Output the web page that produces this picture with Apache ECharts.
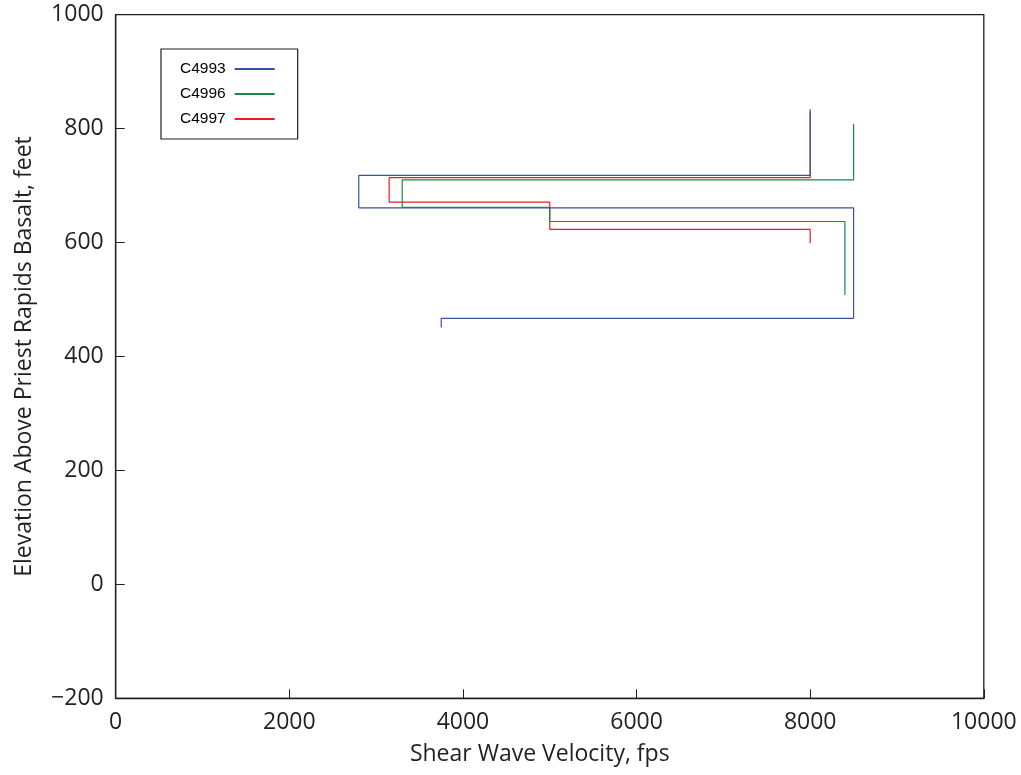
<!DOCTYPE html>
<html>
<head>
<meta charset="utf-8">
<script src="https://cdn.jsdelivr.net/npm/echarts@6/dist/echarts.min.js"></script>
<style>
html,body{margin:0;padding:0;background:#fff;}
#chart{width:1021px;height:775px;}
</style>
</head>
<body>
<div id="chart"></div>
<script>
// Data
const seriesNames = ['C4993', 'C4996', 'C4997'];
const c4993Velocity  = [8000, 8000, 2800, 2800, 8500, 8500, 3750, 3750];
const c4993Elevation = [834, 718, 718, 661, 661, 467, 467, 451];
const c4996Velocity  = [8500, 8500, 3300, 3300, 5000, 5000, 8400, 8400];
const c4996Elevation = [808, 710, 710, 662, 662, 637, 637, 508];
const c4997Velocity  = [8000, 8000, 3150, 3150, 5000, 5000, 8000, 8000];
const c4997Elevation = [830, 714, 714, 671, 671, 623, 623, 599];
const xTicks = [0, 2000, 4000, 6000, 8000, 10000];
const yTicks = [-200, 0, 200, 400, 600, 800, 1000];

const colors = ['#3852a4', '#16894a', '#ed1c24'];
const pairs = (xs, ys) => xs.map((x, i) => [x, ys[i]]);
const allData = [
  pairs(c4993Velocity, c4993Elevation),
  pairs(c4996Velocity, c4996Elevation),
  pairs(c4997Velocity, c4997Elevation)
];

const axisColor = '#231f20';
const chart = echarts.init(document.getElementById('chart'), null, {renderer: 'canvas'});
chart.setOption({
  animation: false,
  backgroundColor: '#fff',
  grid: {
    left: 115.7, right: 1021 - 983.8, top: 14.7, bottom: 775 - 698.3,
    show: true, borderColor: axisColor, borderWidth: 1.3, backgroundColor: 'transparent',
    containLabel: false
  },
  legend: {
    orient: 'vertical',
    left: 161, top: 49,
    align: 'right',
    icon: 'rect',
    itemWidth: 40, itemHeight: 2,
    itemGap: 9,
    padding: [12, 23, 12, 19],
    borderColor: axisColor, borderWidth: 1.2,
    backgroundColor: '#fff',
    textStyle: {fontFamily: 'Liberation Sans', fontSize: 15.5, color: '#000', padding: [0, 4, 0, 0]},
    data: seriesNames
  },
  xAxis: {
    type: 'value', min: xTicks[0], max: xTicks[xTicks.length - 1], interval: 2000,
    name: 'Shear Wave Velocity, fps',
    nameLocation: 'middle', nameGap: 45,
    nameTextStyle: {fontFamily: 'Open Sans', fontSize: 23, color: axisColor, padding: [0, 20, 0, 0]},
    axisLine: {show: true, onZero: false, lineStyle: {color: axisColor, width: 1.3}},
    axisTick: {show: true, inside: true, length: 9, lineStyle: {color: axisColor, width: 1}},
    axisLabel: {fontFamily: 'Open Sans', fontSize: 23, color: axisColor, margin: 13,
      formatter: v => String(v)},
    splitLine: {show: false}
  },
  yAxis: {
    type: 'value', min: yTicks[0], max: yTicks[yTicks.length - 1], interval: 200,
    name: 'Elevation Above Priest Rapids Basalt, feet',
    nameLocation: 'middle', nameGap: 80,
    nameTextStyle: {fontFamily: 'Open Sans', fontSize: 23, color: axisColor},
    axisLine: {show: true, onZero: false, lineStyle: {color: axisColor, width: 1.3}},
    axisTick: {show: true, inside: true, length: 9, lineStyle: {color: axisColor, width: 1}},
    axisLabel: {fontFamily: 'Open Sans', fontSize: 23, color: axisColor, margin: 12,
      formatter: v => String(v).replace('-', '\u2212')},
    splitLine: {show: false}
  },
  series: seriesNames.map((name, i) => ({
    name: name,
    type: 'line',
    data: allData[i],
    symbol: 'none',
    showSymbol: false,
    lineStyle: {color: colors[i], width: 1.2},
    itemStyle: {color: colors[i]},
    z: 3 - i
  }))
});
</script>
</body>
</html>
